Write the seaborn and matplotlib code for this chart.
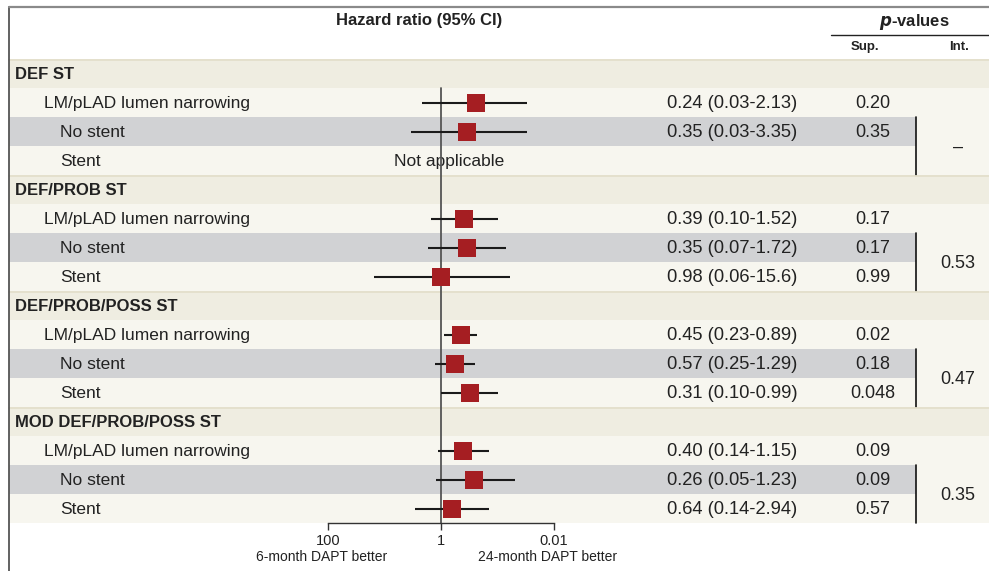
import numpy as np
import pandas as pd
import matplotlib
matplotlib.use("Agg")
import matplotlib.pyplot as plt
import seaborn as sns
from matplotlib.patches import Rectangle

# ---------------- data ----------------
sections = ["DEF ST", "DEF/PROB ST", "DEF/PROB/POSS ST", "MOD DEF/PROB/POSS ST"]
subgroups = ["LM/pLAD lumen narrowing", "No stent", "Stent"]

hr_def = [0.24, 0.35, np.nan]
lo_def = [0.03, 0.03, np.nan]
hi_def = [2.13, 3.35, np.nan]

hr_prob = [0.39, 0.35, 0.98]
lo_prob = [0.10, 0.07, 0.06]
hi_prob = [1.52, 1.72, 15.6]

hr_poss = [0.45, 0.57, 0.31]
lo_poss = [0.23, 0.25, 0.10]
hi_poss = [0.89, 1.29, 0.99]

hr_mod = [0.40, 0.26, 0.64]
lo_mod = [0.14, 0.05, 0.14]
hi_mod = [1.15, 1.23, 2.94]

hr_text = [
    ["0.24 (0.03-2.13)", "0.35 (0.03-3.35)", ""],
    ["0.39 (0.10-1.52)", "0.35 (0.07-1.72)", "0.98 (0.06-15.6)"],
    ["0.45 (0.23-0.89)", "0.57 (0.25-1.29)", "0.31 (0.10-0.99)"],
    ["0.40 (0.14-1.15)", "0.26 (0.05-1.23)", "0.64 (0.14-2.94)"],
]
p_sup = [
    ["0.20", "0.35", ""],
    ["0.17", "0.17", "0.99"],
    ["0.02", "0.18", "0.048"],
    ["0.09", "0.09", "0.57"],
]
p_int = ["–", "0.53", "0.47", "0.35"]

tick_values = [100, 1, 0.01]
tick_labels = ["100", "1", "0.01"]
left_label = "6-month DAPT better"
right_label = "24-month DAPT better"

# ---------------- style ----------------
sns.set_theme(style="white")
plt.rcParams["font.family"] = ["Liberation Sans", "DejaVu Sans"]
NARROW = ["Liberation Sans Narrow", "Liberation Sans", "DejaVu Sans"]

W, H = 989, 571
TOP, RH = 59, 29
C_HEAD = "#EFEDE1"
C_ROW = "#F7F6EF"
C_GRAY = "#D1D2D4"
C_RED = "#A51E22"
TXT = "#222222"
X_INT_LINE = 916

fig = plt.figure(figsize=(W / 100, H / 100), dpi=100)
fig.patch.set_facecolor("white")
bg = fig.add_axes([0, 0, 1, 1])
bg.set_xlim(0, W)
bg.set_ylim(H, 0)
bg.axis("off")

hr_all = [hr_def, hr_prob, hr_poss, hr_mod]
lo_all = [lo_def, lo_prob, lo_poss, lo_mod]
hi_all = [hi_def, hi_prob, hi_poss, hi_mod]

records = []
for s, sec in enumerate(sections):
    base = s * 4
    y0 = TOP + base * RH
    bg.add_patch(Rectangle((9, y0), W - 9, RH, color=C_HEAD, lw=0))
    bg.plot([9, W], [y0 + 0.5, y0 + 0.5], color="#E2DEC9", lw=1.2)
    bg.text(15, y0 + RH / 2 + 1, sec, ha="left", va="center",
            fontsize=12, fontweight="bold", color=TXT)
    for j, sub in enumerate(subgroups):
        r = base + 1 + j
        yr = TOP + r * RH
        if sub == "No stent":
            bg.add_patch(Rectangle((9, yr), X_INT_LINE - 9, RH, color=C_GRAY, lw=0))
            bg.add_patch(Rectangle((X_INT_LINE, yr), W - X_INT_LINE, RH, color=C_ROW, lw=0))
        else:
            bg.add_patch(Rectangle((9, yr), W - 9, RH, color=C_ROW, lw=0))
        xl = 44 if j == 0 else 60
        yc = yr + RH / 2 + 1
        bg.text(xl, yc, sub, ha="left", va="center", fontsize=12.5, color=TXT)
        if hr_text[s][j]:
            bg.text(732, yc, hr_text[s][j], ha="center", va="center",
                    fontsize=13.2, color=TXT)
        if p_sup[s][j]:
            bg.text(873, yc, p_sup[s][j], ha="center", va="center",
                    fontsize=13, color=TXT)
        records.append(dict(row=r + 0.5, hr=hr_all[s][j], lo=lo_all[s][j],
                            hi=hi_all[s][j]))
    ya = TOP + (base + 2) * RH
    yb = TOP + (base + 4) * RH
    bg.plot([X_INT_LINE, X_INT_LINE], [ya, yb], color="#111111", lw=1.2)
    bg.text(958, ya + RH + 1, p_int[s], ha="center", va="center",
            fontsize=13, color=TXT)

bg.text(449, TOP + 3 * RH + RH / 2 + 1, "Not applicable", ha="center",
        va="center", fontsize=12.5, color=TXT)

# borders
bg.plot([9, 9], [7, H], color="#555555", lw=1.3)
bg.plot([9, W], [7, 7], color="#8A8A8A", lw=1.6)

# header
bg.text(419, 21, "Hazard ratio (95% CI)", ha="center", va="center",
        fontsize=12, fontweight="bold", family=NARROW, color=TXT)
bg.text(914, 22, r"$\mathbfit{p}$" + "-values", ha="center", va="center",
        fontsize=12, fontweight="bold", family=NARROW, color=TXT)
bg.plot([831, W], [35, 35], color="#222222", lw=1.0)
bg.text(865, 47, "Sup.", ha="center", va="center", fontsize=9.5,
        fontweight="bold", family=NARROW, color=TXT)
bg.text(959, 47, "Int.", ha="center", va="center", fontsize=9.5,
        fontweight="bold", family=NARROW, color=TXT)

# axis side labels
bg.text(322, 557, left_label, ha="center", va="center", fontsize=10, color=TXT)
bg.text(548, 557, right_label, ha="center", va="center", fontsize=10, color=TXT)

# ---------------- forest axes ----------------
df = pd.DataFrame(records).dropna()
ax = fig.add_axes([328 / W, 1 - 523 / H, 226 / W, 464 / H])
ax.set_facecolor("none")
ax.set_xscale("log")
ax.set_xlim(100, 0.01)
ax.set_ylim(16, 0)

ax.plot([1, 1], [1, 16], color="#555555", lw=1.3, zorder=1)
ax.hlines(df["row"], df["lo"], df["hi"], color="#1a1a1a", lw=1.5, zorder=2)
sns.scatterplot(data=df, x="hr", y="row", marker="s", s=175, color=C_RED,
                linewidth=0, legend=False, ax=ax, zorder=3)

for sp in ["top", "left", "right"]:
    ax.spines[sp].set_visible(False)
ax.spines["bottom"].set_color("#333333")
ax.spines["bottom"].set_linewidth(1.0)
ax.set_xticks(tick_values)
ax.set_xticklabels(tick_labels)
ax.xaxis.set_minor_locator(matplotlib.ticker.NullLocator())
ax.tick_params(axis="x", which="major", direction="out", length=5, width=1.0,
               color="#333333", labelsize=10.5, pad=3, labelcolor=TXT,
               bottom=True)
ax.set_yticks([])
ax.set_xlabel("")
ax.set_ylabel("")

fig.savefig("out.png", dpi=100, facecolor="white")
